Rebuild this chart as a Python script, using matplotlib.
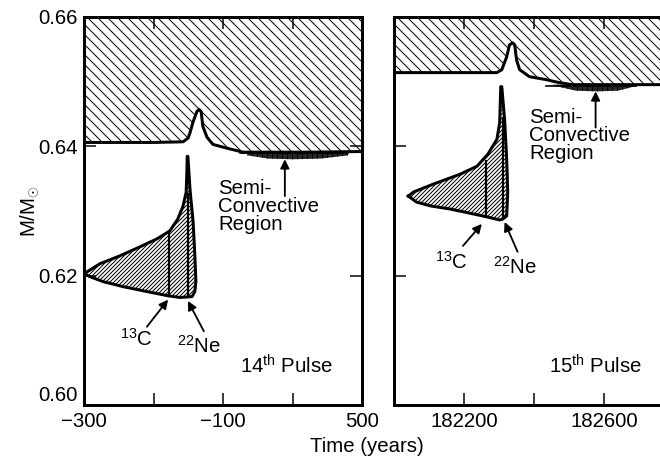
import matplotlib.pyplot as plt

plt.rcParams['font.family'] = ['Liberation Sans', 'DejaVu Sans']
plt.rcParams['font.size'] = 12.2
plt.rcParams['mathtext.fontset'] = 'custom'
plt.rcParams['mathtext.rm'] = 'Liberation Sans'
plt.rcParams['hatch.linewidth'] = 0.6
plt.rcParams['hatch.color'] = 'black'

M_TOP = 0.66

# ---- 14th pulse: time in years around the pulse
p14_env_t = [-300, -100, -15, 0, 5, 14, 25, 31, 37, 42, 54, 71, 112, 158, 250, 350, 500]
p14_env_m = [0.6406, 0.6406, 0.6407, 0.6413, 0.6421, 0.6438, 0.6454, 0.6457, 0.6454,
             0.6431, 0.6414, 0.6403, 0.6397, 0.6391, 0.6391, 0.6391, 0.6392]

# outline of the convective shell (upper edge, right edge, lower edge)
p14_shell_t = [-300, -254, -196, -139, -90, -53, -30, -15, -6, -4, -3,
               -1, 5, 14, 19, 22, 19, 11,
               -24, -61, -119, -188, -245, -283, -300]
p14_shell_m = [0.6203, 0.62185, 0.62308, 0.62446, 0.62569, 0.62692, 0.62877, 0.63077, 0.63292, 0.6360, 0.63846,
               0.63846, 0.63338, 0.62831, 0.62308, 0.61908, 0.61754, 0.61677,
               0.61662, 0.61692, 0.61754, 0.61831, 0.61908, 0.61985, 0.6203]

p14_c13_t = -55
p14_c13_m = (0.61692, 0.62692)
p14_ne22_t = -1
p14_ne22_m = (0.61670, 0.6326)

p14_semi_t = [170, 230, 300, 380, 460]
p14_semi_lo = [0.6386, 0.6381, 0.6380, 0.6381, 0.6386]
p14_semi_hi = [0.6391, 0.6391, 0.6391, 0.6391, 0.6391]

# ---- 15th pulse
p15_env_t = [182000, 182200, 182294, 182308, 182322, 182330, 182339, 182345, 182350,
             182359, 182387, 182435, 182472, 182509, 182650, 182800]
p15_env_m = [0.6514, 0.6514, 0.6514, 0.65185, 0.65385, 0.65569, 0.6560, 0.65569, 0.65338,
             0.65185, 0.65077, 0.65031, 0.64985, 0.64954, 0.64954, 0.64954]

p15_shell_t = [182041, 182055, 182112, 182189, 182237, 182268, 182294, 182302, 182305,
               182308, 182316, 182322, 182325, 182322, 182311,
               182302, 182254, 182160, 182106, 182064, 182041]
p15_shell_m = [0.63231, 0.63292, 0.63415, 0.63569, 0.63692, 0.63877, 0.64108, 0.64369, 0.64923,
               0.64923, 0.64415, 0.6380, 0.63292, 0.62923, 0.62877,
               0.62862, 0.62923, 0.63031, 0.63077, 0.63138, 0.63231]

p15_c13_t = 182262
p15_c13_m = (0.62915, 0.6378)
p15_ne22_t = 182311
p15_ne22_m = (0.62877, 0.64415)

p15_semi_t = [182455, 182520, 182580, 182640, 182690]
p15_semi_lo = [0.6494, 0.6486, 0.6485, 0.6486, 0.6493]
p15_semi_hi = [0.64954, 0.64954, 0.64954, 0.64954, 0.64954]

y_ticks = [0.60, 0.62, 0.64, 0.66]
y_labels = ['0.60', '0.62', '0.64', '0.66']


def pulse_panel(ax, env_t, env_m, shell_t, shell_m, c13, ne22, semi):
    # hatched convective envelope above the H-shell boundary
    ax.fill_between(env_t, env_m, M_TOP, facecolor='none', edgecolor='black',
                    hatch='\\' * 4, linewidth=0)
    ax.plot(env_t, env_m, color='black', lw=1.8, solid_capstyle='round')

    # intershell convective zone
    ax.fill(shell_t, shell_m, facecolor='white', edgecolor='black',
            hatch='/' * 10, linewidth=0)
    ax.plot(shell_t, shell_m, color='black', lw=1.8, solid_joinstyle='round')
    ax.plot([c13[0], c13[0]], c13[1], color='black', lw=1.3)
    ax.plot([ne22[0], ne22[0]], ne22[1], color='black', lw=1.3)

    # semi-convective layer under the envelope
    st, slo, shi = semi
    ax.fill_between(st, slo, shi, facecolor='black', edgecolor='black',
                    hatch='||||', linewidth=0, alpha=0.85)
    ax.plot([st[0] - 20, st[-1]], [shi[0] - 0.0002] * 2, color='black', lw=1.0)

    ax.set_ylim(0.60, 0.66)
    ax.tick_params(direction='in', length=7, width=0.9, top=True, right=True, pad=4)
    for s in ax.spines.values():
        s.set_linewidth(1.8)


fig = plt.figure(figsize=(5.5, 3.8), dpi=120)
ax1 = fig.add_axes([84 / 660, 51 / 456, 278 / 660, 388 / 456])
ax2 = fig.add_axes([394 / 660, 51 / 456, 280 / 660, 388 / 456])

pulse_panel(ax1, p14_env_t, p14_env_m, p14_shell_t, p14_shell_m,
            (p14_c13_t, p14_c13_m), (p14_ne22_t, p14_ne22_m),
            (p14_semi_t, p14_semi_lo, p14_semi_hi))
ax1.set_xlim(-300, 500)
ax1.set_xticks([-300, -100, 100, 300, 500], ['\u2212300', '', '\u2212100', '', '500'])
ax1.set_yticks(y_ticks, y_labels)
ax1.get_yticklabels()[0].set_va('bottom')

pulse_panel(ax2, p15_env_t, p15_env_m, p15_shell_t, p15_shell_m,
            (p15_c13_t, p15_c13_m), (p15_ne22_t, p15_ne22_m),
            (p15_semi_t, p15_semi_lo, p15_semi_hi))
ax2.set_xlim(182000, 182800)
ax2.set_xticks([182000, 182200, 182400, 182600, 182800], ['', '182200', '', '182600', ''])
ax2.set_yticks(y_ticks, [''] * 4)

arrow = dict(arrowstyle='-|>', color='black', lw=1.1, mutation_scale=11, shrinkA=0, shrinkB=0)

# labels, 14th pulse
ax1.text(86, 0.6350, 'Semi-\nConvective\nRegion', ha='left', va='top', linespacing=0.95)
ax1.annotate('', xy=(278, 0.6380), xytext=(278, 0.6323), arrowprops=arrow)
ax1.text(-196, 0.6091, r'$\mathregular{^{13}}$C', ha='left', va='baseline')
ax1.annotate('', xy=(-58, 0.6163), xytext=(-119, 0.6121), arrowprops=arrow)
ax1.text(-32, 0.6080, r'$\mathregular{^{22}}$Ne', ha='left', va='baseline')
ax1.annotate('', xy=(-1, 0.6161), xytext=(45, 0.6114), arrowprops=arrow)
ax1.text(149, 0.6049, r'14$\mathregular{^{th}}$ Pulse', ha='left', va='baseline')

# labels, 15th pulse
ax2.text(182387, 0.6460, 'Semi-\nConvective\nRegion', ha='left', va='top', linespacing=0.95)
ax2.annotate('', xy=(182576, 0.6485), xytext=(182576, 0.6429), arrowprops=arrow)
ax2.text(182118, 0.6211, r'$\mathregular{^{13}}$C', ha='left', va='baseline')
ax2.annotate('', xy=(182251, 0.6280), xytext=(182197, 0.6246), arrowprops=arrow)
ax2.text(182282, 0.6203, r'$\mathregular{^{22}}$Ne', ha='left', va='baseline')
ax2.annotate('', xy=(182316, 0.6283), xytext=(182353, 0.6237), arrowprops=arrow)
ax2.text(182444, 0.6049, r'15$\mathregular{^{th}}$ Pulse', ha='left', va='baseline')

fig.text(367 / 660, 4 / 456, 'Time (years)', ha='center', va='baseline')
fig.text(30 / 660, 245 / 456, r'M/M$_{\odot}$', rotation=90, ha='center', va='center')

fig.savefig('out.png', dpi=120)
